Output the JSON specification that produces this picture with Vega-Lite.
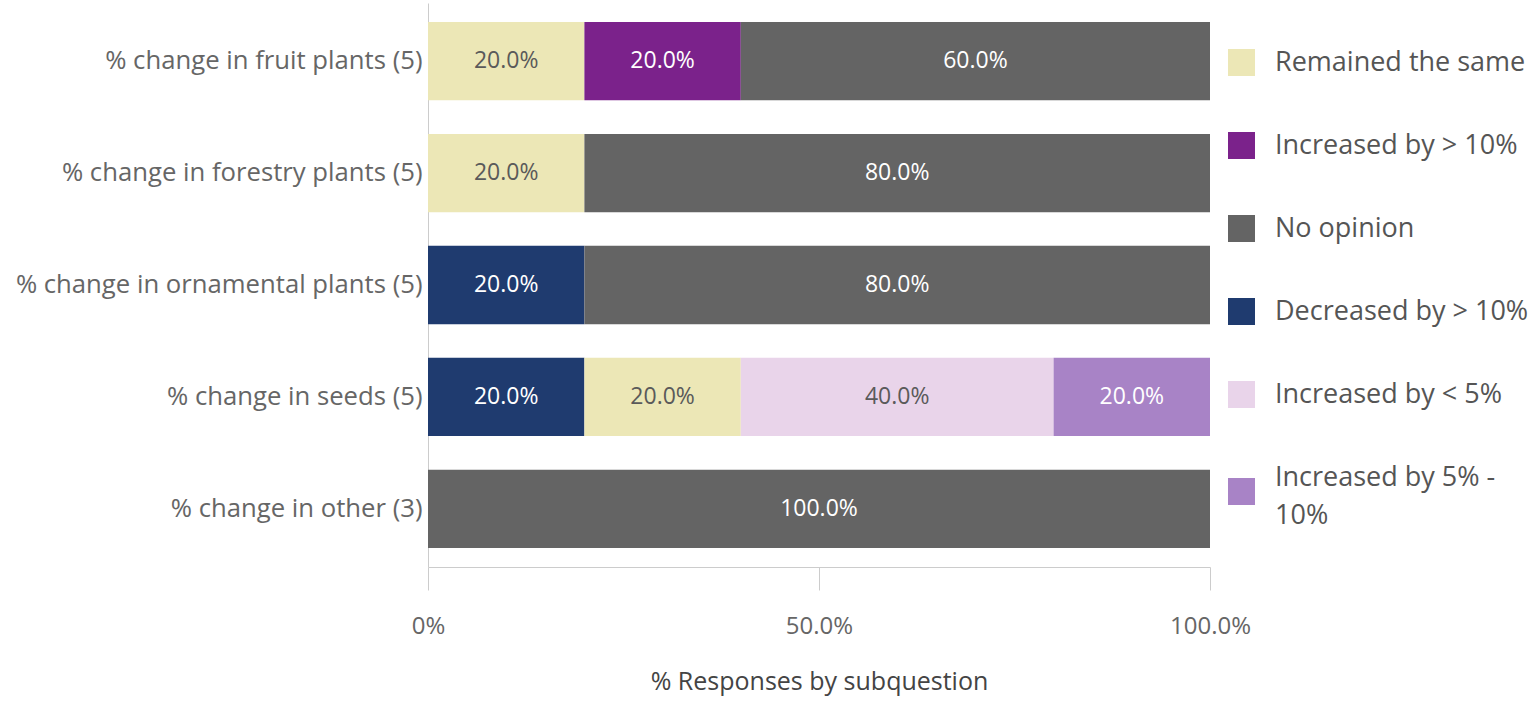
{
  "$schema": "https://vega.github.io/schema/vega-lite/v6.json",
  "autosize": "none",
  "width": 782,
  "height": 564,
  "padding": {"left": 428, "top": 3, "right": 324, "bottom": 136},
  "background": "white",
  "config": {
    "font": "Open Sans",
    "view": {"stroke": null},
    "style": {"guide-label": {"lineHeight": 38}},
    "axis": {"grid": false, "domainColor": "#cccccc", "tickColor": "#cccccc", "labelColor": "#666666", "labelFont": "Open Sans", "titleFont": "Open Sans"}
  },
  "data": {
    "values": [
      {"question": "% change in fruit plants (5)", "response": "Remained the same", "value": 0.2},
      {"question": "% change in fruit plants (5)", "response": "Increased by > 10%", "value": 0.2},
      {"question": "% change in fruit plants (5)", "response": "No opinion", "value": 0.6},
      {"question": "% change in forestry plants (5)", "response": "Remained the same", "value": 0.2},
      {"question": "% change in forestry plants (5)", "response": "No opinion", "value": 0.8},
      {"question": "% change in ornamental plants (5)", "response": "Decreased by > 10%", "value": 0.2},
      {"question": "% change in ornamental plants (5)", "response": "No opinion", "value": 0.8},
      {"question": "% change in seeds (5)", "response": "Decreased by > 10%", "value": 0.2},
      {"question": "% change in seeds (5)", "response": "Remained the same", "value": 0.2},
      {"question": "% change in seeds (5)", "response": "Increased by < 5%", "value": 0.4},
      {"question": "% change in seeds (5)", "response": "Increased by 5% - 10%", "value": 0.2},
      {"question": "% change in other (3)", "response": "No opinion", "value": 1.0}
    ]
  },
  "transform": [
    {"calculate": "indexof(['Decreased by > 10%','Remained the same','Increased by > 10%','Increased by < 5%','Increased by 5% - 10%','No opinion'], datum.response)", "as": "rank"},
    {"stack": "value", "groupby": ["question"], "sort": [{"field": "rank", "order": "ascending"}], "as": ["x0", "x1"]},
    {"calculate": "(datum.x0 + datum.x1) / 2", "as": "mid"}
  ],
  "encoding": {
    "y": {
      "field": "question", "type": "nominal",
      "sort": ["% change in fruit plants (5)", "% change in forestry plants (5)", "% change in ornamental plants (5)", "% change in seeds (5)", "% change in other (3)"],
      "scale": {"paddingInner": 0.3, "paddingOuter": 0.17},
      "axis": {"title": null, "ticks": false, "labelFontSize": 25.7, "labelPadding": 6, "labelLimit": 500, "domainColor": "#cccccc"}
    }
  },
  "layer": [
    {
      "mark": {"type": "bar"},
      "encoding": {
        "x": {
          "field": "x0", "type": "quantitative",
          "scale": {"domain": [0, 1], "nice": false},
          "axis": {
            "title": "% Responses by subquestion",
            "values": [0, 0.5, 1],
            "labelExpr": "datum.value == 0 ? '0%' : format(datum.value, '.1%')",
            "labelFlush": false,
            "labelFontSize": 24, "labelPadding": 24, "tickSize": 23,
            "titleFontSize": 25, "titleFontWeight": "normal", "titleColor": "#444444", "titlePadding": 31
          }
        },
        "x2": {"field": "x1"},
        "color": {
          "field": "response", "type": "nominal",
          "scale": {
            "domain": ["Remained the same", "Increased by > 10%", "No opinion", "Decreased by > 10%", "Increased by < 5%", "Increased by 5% - 10%"],
            "range": ["#ece7b6", "#7b228b", "#646464", "#1f3b6f", "#e9d4ea", "#a883c6"]
          },
          "legend": {
            "title": null,
            "orient": "none",
            "legendX": 800,
            "legendY": 46,
            "symbolType": "square",
            "symbolSize": 729,
            "symbolStrokeWidth": 0,
            "symbolOpacity": 1,
            "labelFontSize": 27,
            "labelColor": "#555555",
            "labelOffset": 20,
            "labelLimit": 400,
            "rowPadding": 55,
            "labelBaseline": {"expr": "datum.value == 'Increased by 5% - 10%' ? 'bottom' : 'middle'"},
            "labelExpr": "datum.label == 'Increased by 5% - 10%' ? ['Increased by 5% -', '10%'] : datum.label"
          }
        }
      }
    },
    {
      "mark": {"type": "text", "fontSize": 23, "align": "center", "baseline": "middle"},
      "encoding": {
        "x": {"field": "mid", "type": "quantitative"},
        "text": {"field": "value", "type": "quantitative", "format": ".1%"},
        "color": {
          "condition": {"test": "datum.response === 'Remained the same' || datum.response === 'Increased by < 5%'", "value": "#5a5a5a"},
          "value": "white"
        }
      }
    }
  ]
}
